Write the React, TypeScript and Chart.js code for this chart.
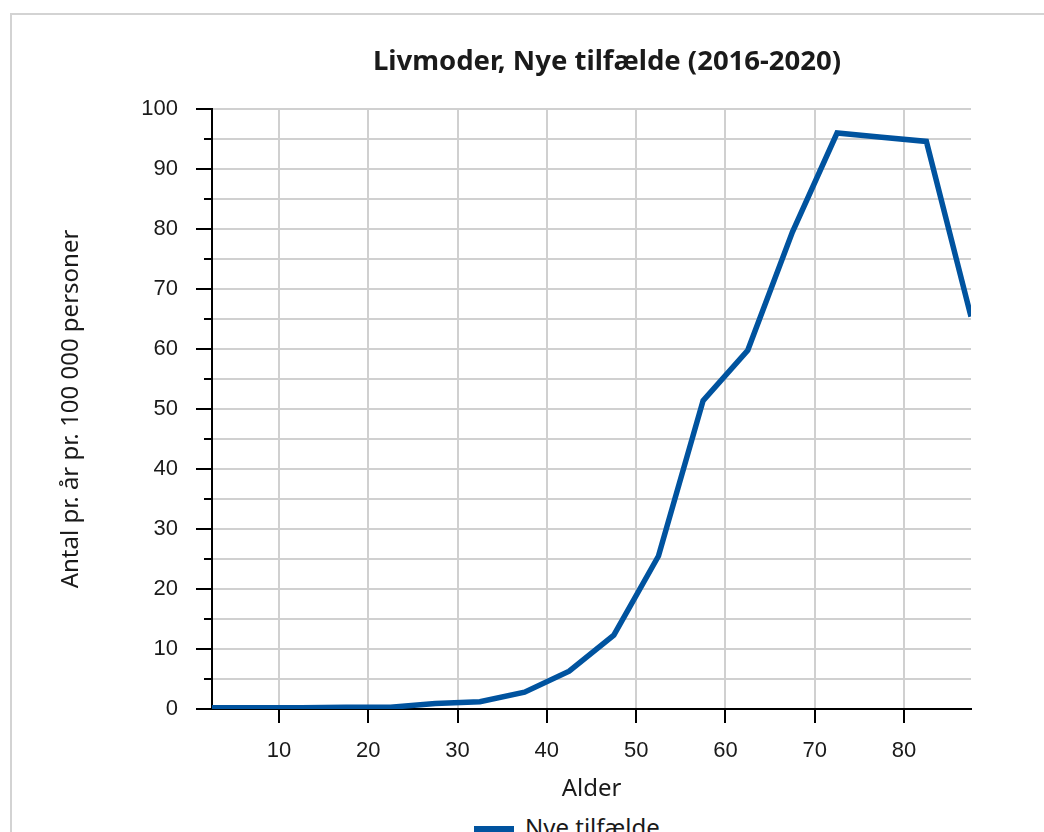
import React, { useEffect, useRef } from 'react';
import { Chart, registerables } from 'chart.js';

Chart.register(...registerables);

const chartTitle = 'Livmoder, Nye tilfælde (2016-2020)';
const seriesLabel = 'Nye tilfælde';
const xAxisTitle = 'Alder';
const yAxisTitle = 'Antal pr. år pr. 100 000 personer';

const ageMidpoints = [2.5, 7.5, 12.5, 17.5, 22.5, 27.5, 32.5, 37.5, 42.5, 47.5, 52.5, 57.5, 62.5, 67.5, 72.5, 77.5, 82.5, 87.5];
const incidence = [0.2, 0.2, 0.2, 0.3, 0.3, 0.9, 1.2, 2.8, 6.3, 12.3, 25.5, 51.4, 59.8, 79.5, 96.0, 95.3, 94.6, 65.4];
const xTickValues = [10, 20, 30, 40, 50, 60, 70, 80];
const yMin = 0;
const yMax = 100;
const yStep = 5;
const yLabelEvery = 10;

const LINE_COLOR = '#00539f';

const minorTickPlugin = {
  id: 'minorTicks',
  afterDraw(chart: any) {
    const y = chart.scales.y;
    const ctx = chart.ctx;
    ctx.save();
    ctx.strokeStyle = '#000';
    ctx.lineWidth = 2;
    y.ticks.forEach((t: any) => {
      if (t.value % yLabelEvery !== 0) {
        const py = Math.round(y.getPixelForValue(t.value));
        ctx.beginPath();
        ctx.moveTo(y.right - 8, py);
        ctx.lineTo(y.right, py);
        ctx.stroke();
      }
    });
    ctx.restore();
  },
};

export default function App() {
  const canvasRef = useRef<HTMLCanvasElement | null>(null);

  useEffect(() => {
    if (!canvasRef.current) return;
    const chart = new Chart(canvasRef.current, {
      type: 'line',
      data: {
        datasets: [
          {
            label: seriesLabel,
            data: ageMidpoints.map((x, i) => ({ x, y: incidence[i] })),
            borderColor: LINE_COLOR,
            backgroundColor: LINE_COLOR,
            borderWidth: 5.5,
            pointRadius: 0,
            tension: 0,
            clip: 0,
          } as any,
        ],
      },
      options: {
        animation: false,
        responsive: false,
        devicePixelRatio: 1,
        layout: { padding: { top: 94, right: 141, left: 0, bottom: 0 } },
        plugins: {
          legend: { display: false },
          title: { display: false },
          tooltip: { enabled: false },
        },
        scales: {
          x: {
            type: 'linear',
            min: 2.5,
            max: 87.5,
            afterBuildTicks: (scale: any) => {
              scale.ticks = xTickValues.map((v) => ({ value: v }));
            },
            afterFit: (scale: any) => {
              scale.height = 100;
            },
            grid: {
              color: '#d0d0d0',
              lineWidth: 2,
              drawTicks: true,
              tickLength: 14,
              tickColor: '#000',
              tickWidth: 2,
            },
            border: { display: true, color: '#000', width: 2 },
            ticks: {
              padding: 15,
              color: '#1a1a1a',
              font: { family: '"Liberation Sans", Arial, sans-serif', size: 22 },
              maxRotation: 0,
              autoSkip: false,
            },
            title: {
              display: true,
              text: xAxisTitle,
              color: '#1a1a1a',
              font: { family: '"Noto Sans", sans-serif', size: 24 },
              padding: { top: 0, bottom: 5 },
            },
          },
          y: {
            type: 'linear',
            min: yMin,
            max: yMax,
            afterFit: (scale: any) => {
              scale.width = 200;
            },
            grid: {
              color: '#d0d0d0',
              lineWidth: 2,
              drawTicks: true,
              tickLength: 16,
              tickWidth: 2,
              tickColor: (ctx: any) => (ctx.tick && ctx.tick.value % yLabelEvery === 0 ? '#000' : 'rgba(0,0,0,0)'),
            },
            border: { display: true, color: '#000', width: 2 },
            ticks: {
              stepSize: yStep,
              autoSkip: false,
              padding: 18,
              color: '#1a1a1a',
              font: { family: '"Liberation Sans", Arial, sans-serif', size: 22 },
              callback: (v: any) => (Number(v) % yLabelEvery === 0 ? String(v) : ''),
            },
            title: {
              display: true,
              text: yAxisTitle,
              color: '#1a1a1a',
              font: { family: '"Noto Sans", sans-serif', size: 24 },
              padding: { top: 45, bottom: 0 },
            },
          },
        },
      } as any,
      plugins: [minorTickPlugin],
    });
    return () => chart.destroy();
  }, []);

  return (
    <div
      style={{
        position: 'fixed',
        left: 0,
        top: 0,
        width: '100vw',
        height: '100vh',
        overflow: 'hidden',
        background: '#fff',
      }}
    >
      <div
        style={{
          position: 'absolute',
          left: 10,
          top: 13,
          width: 1200,
          height: 900,
          border: '2px solid #d3d3d3',
        }}
      />
      <canvas
        ref={canvasRef}
        width={1100}
        height={794}
        style={{ position: 'absolute', left: 12, top: 15, width: 1100, height: 794 }}
      />
      <div
        style={{
          position: 'absolute',
          left: 0,
          top: 43,
          width: 1214,
          textAlign: 'center',
          fontFamily: '"Noto Sans", sans-serif',
          fontWeight: 700,
          fontSize: 27.5,
          lineHeight: '34px',
          color: '#1a1a1a',
          whiteSpace: 'nowrap',
        }}
      >
        {chartTitle}
      </div>
      <div
        style={{
          position: 'absolute',
          left: 474,
          top: 813,
          display: 'flex',
          alignItems: 'flex-start',
          whiteSpace: 'nowrap',
        }}
      >
        <span
          style={{
            display: 'inline-block',
            width: 40,
            height: 14,
            marginTop: 13,
            background: LINE_COLOR,
          }}
        />
        <span
          style={{
            marginLeft: 11,
            fontFamily: '"Noto Sans", sans-serif',
            fontSize: 24,
            lineHeight: '28px',
            color: '#1a1a1a',
          }}
        >
          {seriesLabel}
        </span>
      </div>
    </div>
  );
}
